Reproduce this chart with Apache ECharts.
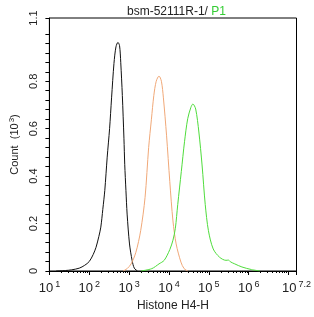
<!DOCTYPE html>
<html>
<head>
<meta charset="utf-8">
<script src="https://cdn.jsdelivr.net/npm/echarts@6/dist/echarts.min.js"></script>
<style>
  html, body { margin: 0; padding: 0; background: #fff; }
  #chart { width: 314px; height: 317px; }
</style>
</head>
<body>
<div id="chart"></div>
<script>
//x values are log10 of Histone H4-H, y values are count in 10^3
const blackLog = [1.17, 1.4, 1.56, 1.75, 1.885, 2.0, 2.1, 2.17, 2.24, 2.29, 2.34, 2.39, 2.45, 2.51, 2.56, 2.62, 2.67, 2.72, 2.76, 2.79, 2.83, 2.87, 2.89, 2.92, 2.95, 3.01, 3.075, 3.13, 3.21];
const blackCount = [0, 0.002, 0.005, 0.012, 0.024, 0.04, 0.07, 0.10, 0.145, 0.185, 0.26, 0.34, 0.48, 0.6, 0.73, 0.875, 0.945, 0.964, 0.95, 0.88, 0.74, 0.56, 0.45, 0.34, 0.24, 0.114, 0.045, 0.012, 0];

const orangeLog = [2.85, 2.95, 3.05, 3.17, 3.29, 3.40, 3.49, 3.56, 3.62, 3.68, 3.75, 3.81, 3.86, 3.94, 4.02, 4.10, 4.18, 4.30, 4.38, 4.47];
const orangeCount = [0, 0.01, 0.03, 0.079, 0.17, 0.31, 0.52, 0.64, 0.74, 0.80, 0.822, 0.80, 0.73, 0.57, 0.378, 0.211, 0.114, 0.0375, 0.01, 0];

const greenLog = [3.3, 3.57, 3.75, 3.88, 4.02, 4.10, 4.16, 4.22, 4.31, 4.39, 4.47, 4.55, 4.60, 4.67, 4.75, 4.83, 4.91, 4.99, 5.11, 5.27, 5.43, 5.49, 5.55, 5.65, 5.83, 6.07, 6.28];
const greenCount = [0, 0.01, 0.03, 0.045, 0.09, 0.13, 0.18, 0.28, 0.42, 0.545, 0.642, 0.69, 0.704, 0.683, 0.586, 0.447, 0.28, 0.17, 0.093, 0.058, 0.045, 0.046, 0.038, 0.03, 0.017, 0.006, 0];

//tick labels
const xLabelExp = [1, 2, 3, 4, 5, 6, 7.2];
const xMajorTicks = [1, 2, 3, 4, 5, 6, 7, 7.2];
const yLabelValues = [0, 0.2, 0.4, 0.6, 0.8];
const yTopLabel = '1.1';

//axis range
const xMin = 1, xMax = 7.2;
const yMin = 0, yMax = 256 / 240;

//log minor ticks
const xMinorTicks = [];
for (let n = 1; n < 7; n++) {
  for (let k = 2; k <= 9; k++) xMinorTicks.push(n + Math.log10(k));
}
for (let k = 2; k <= 9; k++) {
  const v = 7 + Math.log10(k);
  if (v < xMax) xMinorTicks.push(v);
}
const yTicks = [];
for (let i = 0; i <= 25; i++) yTicks.push(+(i * 0.04).toFixed(2));

const toPairs = (xs, ys) => xs.map((x, i) => [x, ys[i]]);

const font = 'Liberation Sans, Arial, sans-serif';

const myChart = echarts.init(document.getElementById('chart'));

const option = {
  animation: false,
  textStyle: { fontFamily: font },
  title: {
    text: '{a|bsm-52111R-1/ }{b|P1}',
    left: 122,
    top: 1,
    textStyle: {
      fontWeight: 'normal',
      rich: {
        a: { fontFamily: font, fontSize: 12, fontWeight: 'normal', color: '#222' },
        b: { fontFamily: font, fontSize: 12, fontWeight: 'normal', color: '#33cc33' }
      }
    }
  },
  grid: {
    left: 43,
    right: 14,
    top: 18,
    bottom: 43,
    show: true,
    borderColor: '#000',
    borderWidth: 1
  },
  xAxis: [
    {
      type: 'value',
      position: 'bottom',
      min: xMin,
      max: xMax,
      name: 'Histone H4-H',
      nameLocation: 'middle',
      nameGap: 29,
      nameTextStyle: { fontFamily: font, fontSize: 12, color: '#222' },
      splitLine: { show: false },
      axisLine: { lineStyle: { color: '#000', width: 1 } },
      axisTick: {
        customValues: xMajorTicks,
        length: 4,
        lineStyle: { color: '#000' }
      },
      axisLabel: {
        customValues: xLabelExp,
        margin: 9,
        formatter: v => '{b|10}{s|' + (+v.toFixed(1)) + '}',
        rich: {
          b: { fontFamily: font, fontSize: 13, color: '#222', verticalAlign: 'bottom', lineHeight: 14 },
          s: { fontFamily: font, fontSize: 9, color: '#222', verticalAlign: 'top', padding: [0, 0, 6, 2] }
        }
      }
    },
    {
      //minor log ticks
      type: 'value',
      position: 'bottom',
      min: xMin,
      max: xMax,
      splitLine: { show: false },
      axisLine: { show: false },
      axisLabel: { show: false },
      axisTick: {
        customValues: xMinorTicks,
        length: 2,
        lineStyle: { color: '#000' }
      }
    }
  ],
  yAxis: {
    type: 'value',
    min: yMin,
    max: yMax,
    name: 'Count  (10{s|3})',
    nameLocation: 'middle',
    nameGap: 27,
    nameRotate: 90,
    nameTextStyle: {
      fontFamily: font,
      fontSize: 11,
      color: '#222',
      rich: {
        s: { fontFamily: font, fontSize: 8, color: '#222', padding: [0, 0, 6, 1] }
      }
    },
    splitLine: { show: false },
    axisLine: { show: true, lineStyle: { color: '#000', width: 1 } },
    axisTick: {
      customValues: yTicks.concat([yMax]),
      length: 4,
      lineStyle: { color: '#000' }
    },
    axisLabel: {
      customValues: yLabelValues.concat([yMax]),
      rotate: 90,
      margin: 10,
      fontFamily: font,
      fontSize: 11,
      color: '#222',
      formatter: v => (v > 1 ? yTopLabel : String(+v.toFixed(1)))
    }
  },
  series: [
    {
      type: 'line',
      data: toPairs(blackLog, blackCount),
      smooth: 0.3,
      showSymbol: false,
      lineStyle: { color: '#111', width: 1 }
    },
    {
      type: 'line',
      data: toPairs(orangeLog, orangeCount),
      smooth: 0.3,
      showSymbol: false,
      lineStyle: { color: '#f0a878', width: 1 }
    },
    {
      type: 'line',
      data: toPairs(greenLog, greenCount),
      smooth: 0.3,
      showSymbol: false,
      lineStyle: { color: '#4fdc3c', width: 1 }
    }
  ]
};

myChart.setOption(option);
</script>
</body>
</html>
